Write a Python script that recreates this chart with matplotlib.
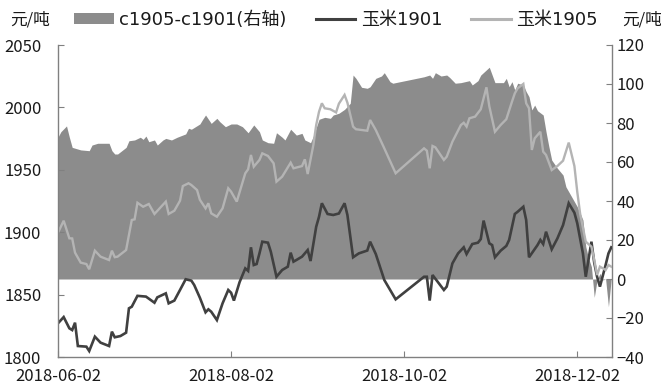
import matplotlib
matplotlib.use("Agg")
import matplotlib.pyplot as plt
from matplotlib.patches import Patch
from matplotlib.lines import Line2D
from matplotlib.font_manager import FontProperties
import pandas as pd

plt.rcParams['font.family'] = ['Noto Sans CJK SC', 'DejaVu Sans']

# ---------------- data ----------------
dates_1901 = ["2018-06-02", "2018-06-04", "2018-06-06", "2018-06-07", "2018-06-08", "2018-06-09", "2018-06-12",
              "2018-06-13", "2018-06-15", "2018-06-17", "2018-06-20", "2018-06-21", "2018-06-22", "2018-06-24",
              "2018-06-26", "2018-06-27", "2018-06-28", "2018-06-30", "2018-07-03", "2018-07-06", "2018-07-07",
              "2018-07-10", "2018-07-11", "2018-07-13", "2018-07-15", "2018-07-17", "2018-07-19", "2018-07-20",
              "2018-07-22", "2018-07-24", "2018-07-25", "2018-07-26", "2018-07-28", "2018-07-30", "2018-08-01",
              "2018-08-02", "2018-08-03", "2018-08-05", "2018-08-07", "2018-08-08", "2018-08-09", "2018-08-10",
              "2018-08-11", "2018-08-12", "2018-08-13", "2018-08-15", "2018-08-16", "2018-08-18", "2018-08-19",
              "2018-08-20", "2018-08-22", "2018-08-23", "2018-08-24", "2018-08-25", "2018-08-27", "2018-08-29",
              "2018-08-30", "2018-09-01", "2018-09-02", "2018-09-03", "2018-09-05", "2018-09-07", "2018-09-09",
              "2018-09-11", "2018-09-12", "2018-09-14", "2018-09-16", "2018-09-19", "2018-09-20", "2018-09-22",
              "2018-09-25", "2018-09-29", "2018-10-09", "2018-10-10", "2018-10-11", "2018-10-12", "2018-10-16",
              "2018-10-17", "2018-10-19", "2018-10-21", "2018-10-23", "2018-10-24", "2018-10-26", "2018-10-28",
              "2018-10-29", "2018-10-30", "2018-11-01", "2018-11-02", "2018-11-03", "2018-11-05", "2018-11-07",
              "2018-11-08", "2018-11-10", "2018-11-11", "2018-11-13", "2018-11-14", "2018-11-15", "2018-11-18",
              "2018-11-19", "2018-11-20", "2018-11-21", "2018-11-23", "2018-11-25", "2018-11-27", "2018-11-29",
              "2018-12-01", "2018-12-02", "2018-12-04", "2018-12-05", "2018-12-07", "2018-12-08", "2018-12-09",
              "2018-12-10", "2018-12-12", "2018-12-13", "2018-12-14"]
corn_1901 = [1827, 1832, 1823, 1821.6, 1827.5, 1808.8, 1808.3,
             1804.8, 1816.3, 1811.5, 1808.8, 1820.3, 1815.8, 1816.8,
             1819.5, 1839, 1840.3, 1849, 1848.4, 1843.5, 1847.8,
             1851, 1843, 1845.2, 1853.7, 1862.3, 1861.2, 1857.7,
             1847.5, 1835.8, 1838.2, 1836.3, 1829.6, 1843, 1853.7,
             1851.5, 1845.2, 1860, 1871, 1869, 1887.9, 1873.7,
             1874.5, 1883, 1892.4, 1891.6, 1884.4, 1864.3, 1867,
             1869.7, 1872.4, 1883.6, 1876.4, 1877.7, 1880.4, 1885.7,
             1876.9, 1904.4, 1912.4, 1923.2, 1914.6, 1913.8, 1915,
             1923.2, 1913.8, 1879.9, 1883, 1885.3, 1892.4, 1882.5,
             1861.7, 1846.2, 1864.3, 1864.3, 1845.2, 1865.7, 1853.7,
             1856.4, 1875, 1883, 1887.9, 1882.5, 1890.5, 1891.6,
             1894.5, 1909.3, 1891.1, 1889.7, 1879.9, 1885.2, 1889,
             1893.8, 1914.6, 1916.4, 1920.4, 1909.8, 1879.9, 1889.7,
             1893.8, 1890.5, 1900.4, 1886.3, 1895, 1905.7, 1923.2,
             1915.6, 1907.2, 1883, 1864.3, 1892.4, 1875.4, 1864.3,
             1856.4, 1873.7, 1883, 1887.9]

dates_1905 = ["2018-06-02", "2018-06-04", "2018-06-06", "2018-06-07", "2018-06-08", "2018-06-10", "2018-06-12",
              "2018-06-13", "2018-06-15", "2018-06-17", "2018-06-20", "2018-06-21", "2018-06-22", "2018-06-23",
              "2018-06-26", "2018-06-28", "2018-06-29", "2018-06-30", "2018-07-02", "2018-07-04", "2018-07-06",
              "2018-07-10", "2018-07-11", "2018-07-13", "2018-07-15", "2018-07-16", "2018-07-18", "2018-07-19",
              "2018-07-21", "2018-07-22", "2018-07-24", "2018-07-25", "2018-07-26", "2018-07-28", "2018-07-30",
              "2018-08-01", "2018-08-02", "2018-08-04", "2018-08-07", "2018-08-08", "2018-08-09", "2018-08-10",
              "2018-08-12", "2018-08-13", "2018-08-15", "2018-08-17", "2018-08-18", "2018-08-20", "2018-08-23",
              "2018-08-24", "2018-08-27", "2018-08-28", "2018-08-29", "2018-08-31", "2018-09-01", "2018-09-02",
              "2018-09-03", "2018-09-04", "2018-09-06", "2018-09-08", "2018-09-09", "2018-09-11", "2018-09-12",
              "2018-09-14", "2018-09-15", "2018-09-17", "2018-09-19", "2018-09-20", "2018-09-22", "2018-09-25",
              "2018-09-29", "2018-10-09", "2018-10-10", "2018-10-11", "2018-10-12", "2018-10-13", "2018-10-16",
              "2018-10-17", "2018-10-19", "2018-10-22", "2018-10-23", "2018-10-24", "2018-10-25", "2018-10-27",
              "2018-10-29", "2018-10-31", "2018-11-01", "2018-11-03", "2018-11-05", "2018-11-07", "2018-11-09",
              "2018-11-10", "2018-11-11", "2018-11-13", "2018-11-14", "2018-11-15", "2018-11-16", "2018-11-17",
              "2018-11-19", "2018-11-20", "2018-11-21", "2018-11-23", "2018-11-25", "2018-11-27", "2018-11-29",
              "2018-12-01", "2018-12-02", "2018-12-03", "2018-12-05", "2018-12-07", "2018-12-08", "2018-12-09",
              "2018-12-10", "2018-12-12", "2018-12-13", "2018-12-14"]
corn_1905 = [1899.6, 1909.2, 1895.1, 1895, 1883.6, 1875.6, 1874.5,
             1870.3, 1885.2, 1880.4, 1877.7, 1885.2, 1880, 1880.4,
             1885.7, 1909.8, 1910.3, 1923.6, 1920.4, 1922.6, 1914.6,
             1924.5, 1914.6, 1917.2, 1925.2, 1937, 1939.2, 1937.8,
             1933.8, 1926, 1919.1, 1923.2, 1915.1, 1912.4, 1919.1,
             1935.2, 1932.5, 1924.5, 1947.2, 1950.4, 1961.9, 1952.5,
             1957.9, 1963.2, 1961.1, 1955.2, 1940.5, 1944.5, 1955.7,
             1951.2, 1953, 1958.4, 1946.6, 1969.9, 1985.9, 1996.6,
             2003.3, 1999.3, 1998.5, 1996, 2003, 2010, 2003.8,
             1984.6, 1982.5, 1981.9, 1981.3, 1989.9, 1981.9, 1967.2,
             1947.2, 1967.2, 1965.3, 1951.2, 1969.1, 1968, 1957.9,
             1960.5, 1972.5, 1985.9, 1987.7, 1984.6, 1991.3, 1992.6,
             1998.5, 2016.1, 2001, 1980.5, 1985.9, 1990.5, 2004.6,
             2011.3, 2015.3, 2018.8, 2003.3, 1999.3, 1965.9, 1975.2,
             1980.5, 1964.5, 1961.9, 1949.8, 1953, 1957.3, 1971.8,
             1953, 1932.5, 1915.1, 1892.4, 1888.4, 1877.7, 1865.7,
             1872.4, 1869.7, 1873.7, 1872.4]

dates_spread = ["2018-06-02", "2018-06-03", "2018-06-05", "2018-06-06", "2018-06-07", "2018-06-10", "2018-06-13",
                "2018-06-14", "2018-06-16", "2018-06-20", "2018-06-21", "2018-06-22", "2018-06-23", "2018-06-26",
                "2018-06-27", "2018-06-29", "2018-07-01", "2018-07-02", "2018-07-03", "2018-07-04", "2018-07-06",
                "2018-07-07", "2018-07-09", "2018-07-10", "2018-07-12", "2018-07-14", "2018-07-17", "2018-07-18",
                "2018-07-19", "2018-07-22", "2018-07-23", "2018-07-24", "2018-07-26", "2018-07-28", "2018-07-29",
                "2018-07-31", "2018-08-02", "2018-08-04", "2018-08-06", "2018-08-08", "2018-08-10", "2018-08-12",
                "2018-08-13", "2018-08-15", "2018-08-17", "2018-08-18", "2018-08-20", "2018-08-21", "2018-08-23",
                "2018-08-25", "2018-08-27", "2018-08-28", "2018-08-30", "2018-08-31", "2018-09-02", "2018-09-04",
                "2018-09-06", "2018-09-07", "2018-09-09", "2018-09-11", "2018-09-13", "2018-09-14", "2018-09-15",
                "2018-09-17", "2018-09-19", "2018-09-20", "2018-09-22", "2018-09-24", "2018-09-25", "2018-09-27",
                "2018-09-28", "2018-10-09", "2018-10-11", "2018-10-12", "2018-10-13", "2018-10-15", "2018-10-17",
                "2018-10-18", "2018-10-20", "2018-10-22", "2018-10-25", "2018-10-26", "2018-10-28", "2018-10-29",
                "2018-11-01", "2018-11-03", "2018-11-06", "2018-11-07", "2018-11-08", "2018-11-09", "2018-11-10",
                "2018-11-11", "2018-11-13", "2018-11-14", "2018-11-15", "2018-11-16", "2018-11-17", "2018-11-18",
                "2018-11-20", "2018-11-21", "2018-11-22", "2018-11-23", "2018-11-25", "2018-11-27", "2018-11-28",
                "2018-11-30", "2018-12-02", "2018-12-04", "2018-12-05", "2018-12-06", "2018-12-07", "2018-12-08",
                "2018-12-09", "2018-12-10", "2018-12-11", "2018-12-12", "2018-12-13", "2018-12-14"]
spread = [72.7, 75.5, 78.5, 72.7, 67.5, 66.2, 65.8,
          68.7, 69.6, 69.6, 65.8, 64.1, 64.1, 67.5,
          70.9, 71.3, 72.7, 71.6, 73.3, 70.4, 71.3,
          68.7, 71.3, 72.1, 71.3, 72.7, 74.4, 77.3,
          76.8, 79.5, 81.9, 84.1, 79.8, 82.4, 80.7,
          78.1, 79.5, 79.5, 78.1, 75, 79, 75.5,
          71.3, 69.9, 69.6, 75, 72.7, 71.3, 76.8,
          73.8, 74.7, 71.3, 69.9, 73.3, 81.9, 82.9,
          82.4, 84.1, 85, 87, 90.1, 104.6, 102.9,
          98.3, 97.8, 98.6, 102.9, 104.1, 105.8, 101.2,
          100.4, 103.7, 104.6, 102.9, 105.8, 104.1, 104.6,
          103.4, 100.4, 100.7, 101.7, 99.5, 101.7, 104.6,
          108.6, 100.7, 100.7, 102.9, 98.6, 101.2, 96.9,
          100.4, 99.5, 96.1, 93.5, 86.7, 89.2, 86.3,
          84.1, 75.5, 67.9, 61, 56.8, 53.3, 47.3,
          42.2, 37.1, 30.3, 16.6, 10.6, 6.3, -9.4,
          -0.5, 2.9, -0.5, 0, -14.2, 0.5]

xtick_dates = ["2018-06-02", "2018-08-02", "2018-10-02", "2018-12-02"]
xtick_labels = ["2018-06-02", "2018-08-02", "2018-10-02", "2018-12-02"]
left_ticks = [1800, 1850, 1900, 1950, 2000, 2050]
right_ticks = [-40, -20, 0, 20, 40, 60, 80, 100, 120]
series_labels = ["c1905-c1901(右轴)", "玉米1901", "玉米1905"]
unit_label = "元/吨"

# ---------------- figure ----------------
AREA_C = '#8c8c8c'
DARK_C = '#404040'
LIGHT_C = '#b4b4b4'
SPINE_C = '#808080'
TEXT_C = '#1a1a1a'

fig = plt.figure(figsize=(6.61, 3.87), dpi=100)
ax = fig.add_axes([58 / 661, 1 - 357 / 387, (612 - 58) / 661, (357 - 45) / 387])
ax2 = ax.twinx()
ax.set_zorder(ax2.get_zorder() + 1)
ax.patch.set_visible(False)

ax2.fill_between(pd.to_datetime(dates_spread), 0, spread, color=AREA_C, linewidth=0)
ax.plot(pd.to_datetime(dates_1901), corn_1901, color=DARK_C, lw=1.9, solid_joinstyle='miter')
ax.plot(pd.to_datetime(dates_1905), corn_1905, color=LIGHT_C, lw=1.7, solid_joinstyle='miter')

ax.set_ylim(1800, 2050)
ax2.set_ylim(-40, 120)
ax.set_xlim(pd.Timestamp("2018-06-02"), pd.Timestamp("2018-12-14 06:00"))
ax.set_yticks(left_ticks)
ax2.set_yticks(right_ticks)
ax.set_xticks(pd.to_datetime(xtick_dates))
ax.set_xticklabels(xtick_labels)

for a in (ax, ax2):
    for s in a.spines.values():
        s.set_color(SPINE_C)
        s.set_linewidth(1.0)
    a.spines['top'].set_visible(False)
ax.spines['right'].set_visible(False)
ax2.spines['left'].set_visible(False)
ax2.spines['bottom'].set_visible(False)

tick_font = 12
ax.tick_params(axis='y', direction='in', length=4, color=SPINE_C, pad=12, labelsize=tick_font, labelcolor=TEXT_C)
ax.tick_params(axis='x', direction='in', length=4, color=SPINE_C, pad=8, labelsize=tick_font, labelcolor=TEXT_C)
ax2.tick_params(axis='y', direction='in', length=4, color=SPINE_C, pad=3, labelsize=tick_font, labelcolor=TEXT_C)

legend_font = FontProperties(family=['DejaVu Sans', 'Noto Sans CJK SC'], size=13)
handles = [Patch(facecolor=AREA_C, edgecolor='none'),
           Line2D([], [], color=DARK_C, lw=2.2),
           Line2D([], [], color=LIGHT_C, lw=2.2)]
fig.legend(handles, series_labels, loc='center', bbox_to_anchor=(336 / 661, 1 - 20 / 387), ncol=3,
           frameon=False, prop=legend_font, handlelength=2.2, handleheight=0.6, handletextpad=0.3,
           columnspacing=1.6, borderpad=0, labelcolor=TEXT_C)
fig.text(30 / 661, 1 - 20 / 387, unit_label, ha='center', va='center', fontsize=12, color=TEXT_C)
fig.text(642 / 661, 1 - 20 / 387, unit_label, ha='center', va='center', fontsize=12, color=TEXT_C)

fig.savefig("out.png", dpi=100)
